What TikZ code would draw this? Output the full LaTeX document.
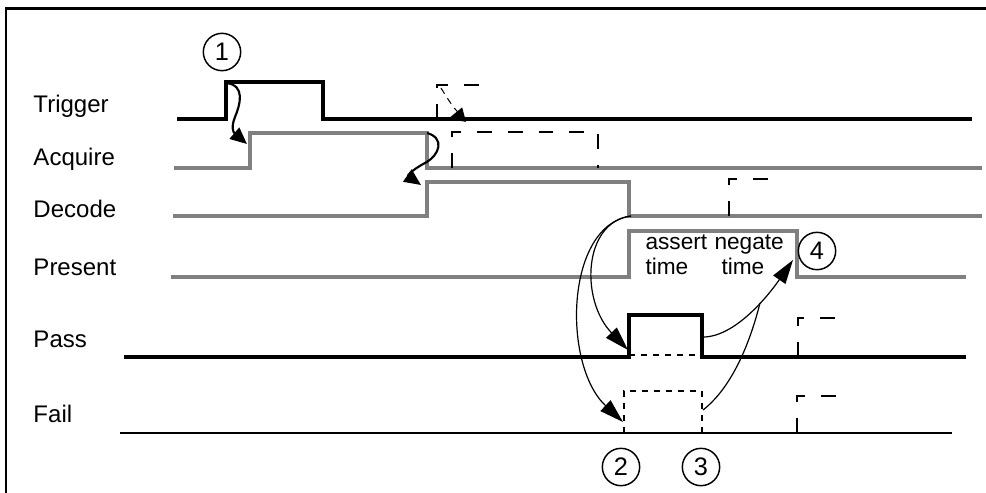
\documentclass[tikz,border=0pt]{standalone}
\usepackage{fontspec}
\setmainfont{Liberation Sans}
\usetikzlibrary{arrows.meta}

\newcommand{\sigfont}{\fontsize{18}{20}\selectfont}
\newcommand{\notefont}{\fontsize{17}{19}\selectfont}

\tikzset{every picture/.style={line width=0.75pt}}
\tikzset{
  sigblack/.style={line width=2.6pt},
  siggray/.style={color={rgb, 255:red, 128; green, 128; blue, 128 }, line width=2.3pt},
  sigthin/.style={line width=1.2pt},
  ghostline/.style={dash pattern={on 11pt off 12pt}, line width=0.9pt},
  hiddenline/.style={dash pattern={on 4.5pt off 4.5pt}, line width=0.9pt},
  causeline/.style={line width=0.9pt, -{Triangle[length=18pt,width=11pt]}},
  squiggle/.style={line width=1.6pt, -{Triangle[length=12.5pt,width=11pt]}},
  numcircle/.style={draw, circle, line width=1.1pt, minimum size=28pt, inner sep=0pt, font=\fontsize{19}{21}\selectfont},
  siglabel/.style={anchor=base west, inner sep=0pt, font=\sigfont},
  notelabel/.style={anchor=base west, inner sep=0pt, font=\notefont}
}

\begin{document}
\begin{tikzpicture}[x=0.75pt,y=0.75pt,yscale=-1,xscale=1]
\useasboundingbox (0,0) rectangle (986,493);

%Frame
\draw [line width=1.9pt]  (6,493) -- (6,8.5) -- (986,8.5) ;

%Gray waveforms
\draw [siggray]  (174,168) -- (250,168) -- (250,133) -- (427,133) -- (427,168) -- (982,168) ;
\draw [siggray]  (173,216) -- (427,216) -- (427,182) -- (629,182) -- (629,216) -- (982,216) ;
\draw [siggray]  (171,277) -- (629,277) -- (629,231) -- (797,231) -- (797,277) -- (966,277) ;

%Black waveforms
\draw [sigblack]  (177,119) -- (226,119) -- (226,82) -- (323,82) -- (323,119) -- (972,119) ;
\draw [sigblack]  (124,357) -- (629,357) -- (629,315) -- (702,315) -- (702,357) -- (966,357) ;
\draw [sigthin]  (120,433) -- (952,433) ;

%Hidden pulses
\draw [hiddenline]  (629,355) -- (702,355) ;
\draw [hiddenline]  (624,433) -- (624,391) -- (702,391) -- (702,433) ;

%Next cycle
\draw [ghostline]  (437,119) -- (437,85) -- (485,85) ;
\draw [ghostline]  (452,168) -- (452,132) -- (598,132) -- (598,168) ;
\draw [ghostline]  (729,216) -- (729,179) -- (778,179) ;
\draw [ghostline]  (798,357) -- (798,318) -- (847,318) ;
\draw [ghostline]  (797,433) -- (797,396) -- (846,396) ;

%Edge points
\coordinate (trigRise) at (226,83) ;
\coordinate (acqRise) at (247,144) ;
\coordinate (acqFall) at (427,133) ;
\coordinate (decRise) at (421,185) ;
\coordinate (nextStart) at (441,88) ;
\coordinate (nextTrig) at (448,119) ;
\coordinate (decFall) at (631,216) ;
\coordinate (passRise) at (628,350) ;
\coordinate (failRise) at (623,422) ;
\coordinate (passFall) at (703,337) ;
\coordinate (failFall) at (703,410) ;
\coordinate (presFall) at (793,260) ;
\coordinate (joinPt) at (760,303) ;

%Curve Lines
\draw [squiggle]  (trigRise) .. controls (246,85) and (240,105) .. (235,117) .. controls (231,127) and (233,132) .. (acqRise) ;
\draw [squiggle]  (acqFall) .. controls (445,138) and (440,155) .. (425,163) .. controls (410,171) and (408,176) .. (decRise) ;
\draw [squiggle, dash pattern={on 5pt off 4pt}, line width=0.75pt]  (nextStart) .. controls (452,106) and (459,116) .. (nextTrig) ;
\draw [causeline]  (decFall) .. controls (583,222) and (580,300) .. (passRise) ;
\draw [causeline]  (decFall) .. controls (565,225) and (562,365) .. (failRise) ;
\draw [causeline]  (passFall) .. controls (735,337) and (768,296) .. (presFall) ;
\draw [line width=0.9pt]  (failFall) .. controls (735,385) and (752,335) .. (joinPt) ;

% Text Node
\node (lblTrigger) [siglabel] at (33,112) {Trigger};
\node (lblAcquire) [siglabel] at (33,165) {Acquire};
\node (lblDecode) [siglabel] at (33,217) {Decode};
\node (lblPresent) [siglabel] at (33,275) {Present};
\node (lblPass) [siglabel] at (33,347) {Pass};
\node (lblFail) [siglabel] at (33,422) {Fail};
% Text Node
\node (txtAssert) [notelabel] at (645,249) {assert};
\node (txtNegate) [notelabel] at (714,249) {negate};
\node (txtTimeA) [notelabel] at (645,274) {time};
\node (txtTimeB) [notelabel] at (721,274) {time};
% Numbers
\node (num1) [numcircle] at (222,52) {1};
\node (num2) [numcircle] at (621,467) {2};
\node (num3) [numcircle] at (701,467) {3};
\node (num4) [numcircle] at (817,251) {4};

\end{tikzpicture}
\end{document}
